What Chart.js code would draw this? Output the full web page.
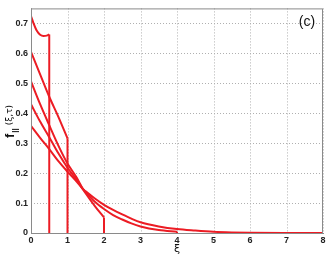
<!DOCTYPE html>
<html>
<head>
<meta charset="utf-8">
<script src="https://cdn.jsdelivr.net/npm/chart.js@4/dist/chart.umd.min.js"></script>
<style>
html,body{margin:0;padding:0;background:#fff;}
#wrap{width:327px;height:256px;position:relative;}
</style>
</head>
<body>
<div id="wrap"><canvas id="c" width="327" height="256"></canvas></div>
<script>
// Curve data (xi positions and f values)
const xiA = [0, 0.065, 0.16, 0.25, 0.34, 0.43, 0.5];
const fA  = [0.724, 0.702, 0.675, 0.662, 0.658, 0.659, 0.663];

const xiB = [0, 0.25, 0.5, 0.75, 1.0];
const fB  = [0.605, 0.53, 0.455, 0.388, 0.316];

const xiC = [0, 0.25, 0.5, 0.75, 1.0, 1.25, 1.42, 1.5, 1.75, 2.0];
const fC  = [0.506, 0.43, 0.36, 0.292, 0.232, 0.185, 0.147, 0.132, 0.09, 0.052];

const xiD = [0, 0.25, 0.5, 0.75, 1.0, 1.25, 1.42, 1.5, 1.75, 2.0, 2.25, 2.5, 2.75, 3.0, 3.5, 4.0];
const fD  = [0.43, 0.372, 0.32, 0.266, 0.218, 0.178, 0.147, 0.136, 0.104, 0.08, 0.06, 0.045, 0.032, 0.022, 0.01, 0.004];

const xiE = [0, 0.25, 0.5, 0.75, 1.0, 1.25, 1.42, 1.5, 1.75, 2.0, 2.25, 2.5, 2.75, 3.0, 3.5, 4.0, 4.5, 5.0, 5.5, 6.0, 7.0, 8.0];
const fE  = [0.358, 0.318, 0.28, 0.24, 0.205, 0.172, 0.147, 0.139, 0.115, 0.094, 0.077, 0.062, 0.048, 0.036, 0.022, 0.013, 0.008, 0.004, 0.002, 0.001, 0.0003, 0.0001];

// cut-off positions where curves drop vertically to zero
const cutXi = [0.5, 1.0, 2.0, 4.0];
const cutF  = [0.663, 0.316, 0.052, 0.004];

const xTicks = [0, 1, 2, 3, 4, 5, 6, 7, 8];
const yTicks = [0, 0.1, 0.2, 0.3, 0.4, 0.5, 0.6, 0.7];

const RED = 'rgb(236,28,36)';
function pts(xs, ys){ return xs.map((x,i)=>({x:x, y:ys[i]})); }
function curve(xs, ys){
  return {data: pts(xs, ys), borderColor: RED, borderWidth: 2, pointRadius: 0,
          cubicInterpolationMode: 'monotone', fill: false};
}
function drop(x, y){
  return {data: [{x:x, y:y}, {x:x, y:0}], borderColor: RED, borderWidth: 2, pointRadius: 0, tension: 0, fill: false};
}

// dotted grid through the scales' own tick positions
const dottedGrid = {
  id: 'dottedGrid',
  beforeDatasetsDraw(chart){
    const ctx = chart.ctx, a = chart.chartArea;
    const xs = chart.scales.x, ys = chart.scales.y;
    ctx.save();
    ctx.strokeStyle = '#b0b0b0';
    ctx.lineWidth = 1;
    ctx.setLineDash([1, 2]);
    xs.ticks.forEach(t => {
      const px = Math.round(xs.getPixelForValue(t.value)) + 0.5;
      ctx.beginPath(); ctx.moveTo(px, a.top); ctx.lineTo(px, a.bottom); ctx.stroke();
    });
    ys.ticks.forEach(t => {
      const py = Math.round(ys.getPixelForValue(t.value)) + 0.5;
      ctx.beginPath(); ctx.moveTo(a.left, py); ctx.lineTo(a.right, py); ctx.stroke();
    });
    ctx.restore();
  }
};

const annot = {
  id: 'annot',
  afterDraw(chart){
    const ctx = chart.ctx, a = chart.chartArea;
    ctx.save();
    ctx.strokeStyle = '#8a8a8a';
    ctx.lineWidth = 1;
    ctx.setLineDash([]);
    ctx.strokeRect(a.left + 0.5, a.top + 0.5, a.right - a.left - 1, a.bottom - a.top);
    ctx.fillStyle = '#111';
    ctx.font = '14px "Liberation Sans", Arial, sans-serif';
    ctx.textAlign = 'center';
    ctx.textBaseline = 'middle';
    ctx.fillText('(c)', 307, 22);
    ctx.font = '11px "DejaVu Sans", sans-serif';
    ctx.fillText('ξ', (a.left + a.right) / 2, 249);
    ctx.translate(10, 128);
    ctx.rotate(-Math.PI / 2);
    ctx.textAlign = 'left';
    ctx.textBaseline = 'alphabetic';
    let x = -10;
    ctx.font = 'bold 13px "Liberation Sans", Arial, sans-serif';
    ctx.fillText('f', x, 4);
    x += ctx.measureText('f').width + 1;
    ctx.font = 'bold 8px "Liberation Sans", Arial, sans-serif';
    ctx.fillText('||', x, 7);
    x += ctx.measureText('||').width + 3;
    ctx.font = '9px "DejaVu Sans", sans-serif';
    ctx.fillText('(ξ,τ)', x, 2);
    ctx.restore();
  }
};

const datasets = [curve(xiA, fA), curve(xiB, fB), curve(xiC, fC), curve(xiD, fD), curve(xiE, fE)];
cutXi.forEach((x, i) => datasets.push(drop(x, cutF[i])));

function axis(min, max, ticksArr, fit, fmt, pad){
  return {
    type: 'linear', min: min, max: max,
    afterFit: fit,
    afterBuildTicks(s){ s.ticks = ticksArr.map(v => ({value: v})); },
    border: {display: true, color: '#8a8a8a', width: 1},
    grid: {display: true, drawOnChartArea: false, drawTicks: false, tickLength: 0},
    ticks: {
      padding: pad, color: '#222', maxRotation: 0, autoSkip: false,
      font: {family: '"Liberation Sans", Arial, sans-serif', size: 9, weight: 'bold'},
      callback: fmt
    }
  };
}

new Chart(document.getElementById('c'), {
  type: 'line',
  data: {datasets: datasets},
  options: {
    responsive: false,
    animation: false,
    events: [],
    layout: {padding: {left: 0, right: 4, top: 0, bottom: 0}},
    plugins: {legend: {display: false}, tooltip: {enabled: false}},
    scales: {
      x: axis(0, 8, xTicks, s => { s.height = 23; s.paddingRight = 0; s.paddingLeft = 0; }, v => String(v), 2),
      y: axis(0, 0.75, yTicks, s => { s.width = 31; }, v => (v === 0 ? '0' : v.toFixed(1)), 3)
    }
  },
  plugins: [dottedGrid, annot]
});
</script>
</body>
</html>
